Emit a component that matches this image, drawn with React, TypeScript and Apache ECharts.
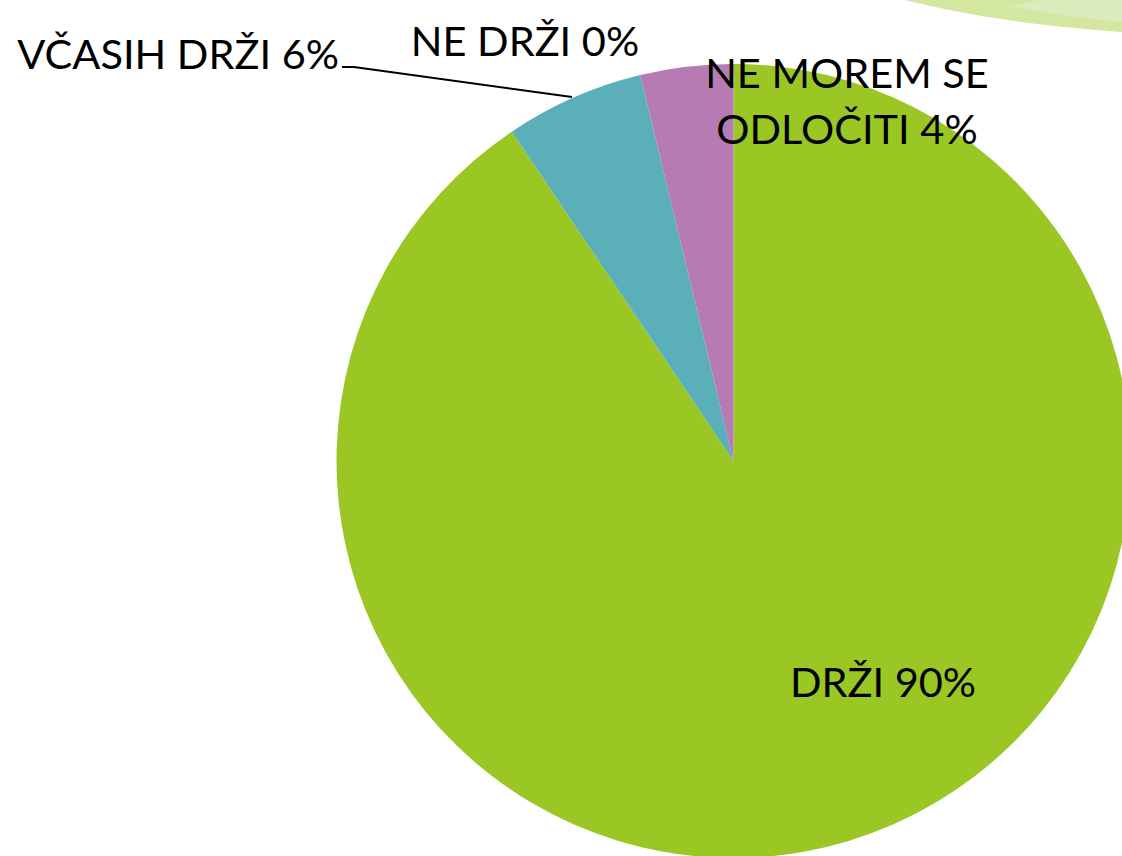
import React, { useEffect, useRef } from "react";
import * as echarts from "echarts";

const categories = ["DRŽI", "NE DRŽI", "VČASIH DRŽI", "NE MOREM SE ODLOČITI"];
// slice sizes (answer counts)
const values = [48, 0, 3, 2];
// percentages as printed on the labels
const percentLabels = [90, 0, 6, 4];
const colors = ["#9AC724", "#C0504D", "#5AAFB9", "#B67BB2"];

// label anchor positions (x, y, align) per slice, in pixels
const labelPos: Array<[number, number, string]> = [
  [883, 681, "center"],
  [525, 40, "center"],
  [339, 53, "right"],
  [847, 100, "center"],
];

export default function App() {
  const ref = useRef<HTMLDivElement>(null);
  useEffect(() => {
    if (!ref.current) return;
    echarts.graphic.registerShape(
      "swoosh",
      echarts.graphic.extendPath("M905 0 Q1000 24 1122 32 L1122 0 Z", {})
    );
    echarts.graphic.registerShape(
      "swoosh2",
      echarts.graphic.extendPath(
        "M1010 6 Q1070 18 1122 22 L1122 0 L1040 0 Z",
        {}
      )
    );
    const chart = echarts.init(ref.current, undefined, { renderer: "svg" });
    chart.setOption({
      animation: false,
      backgroundColor: "#ffffff",
      graphic: [
        { type: "swoosh", x: 0, y: 0, style: { fill: "#D3E7A0" }, z: 0 },
        { type: "swoosh2", x: 0, y: 0, style: { fill: "#DCEBBC" }, z: 0 },
      ],
      series: [
        {
          type: "pie",
          center: [733.5, 461],
          radius: [0, 397],
          startAngle: 90,
          clockwise: true,
          avoidLabelOverlap: false,
          itemStyle: { borderWidth: 0 },
          label: {
            show: true,
            fontFamily: "Lato",
            fontSize: 41.5,
            color: "#000",
            lineHeight: 56,
            formatter: (p: any) =>
              `${p.name.replace("SE ", "SE\n")} ${percentLabels[p.dataIndex]}%`,
          },
          labelLine: { show: false },
          labelLayout: (p: any) => {
            const [x, y, align] = labelPos[p.dataIndex];
            const res: any = { x, y, align, verticalAlign: "middle" };
            if (p.dataIndex === 2) {
              res.labelLinePoints = [
                [572, 97],
                [354, 67],
                [342, 67],
              ];
            }
            return res;
          },
          data: categories.map((name, i) => ({
            name,
            value: values[i],
            itemStyle: { color: colors[i] },
            labelLine:
              i === 2
                ? { show: true, lineStyle: { color: "#000", width: 2 } }
                : { show: false },
          })),
        },
      ],
    });
    return () => chart.dispose();
  }, []);
  return (
    <div
      ref={ref}
      style={{ position: "fixed", left: 0, top: 0, width: 1122, height: 856 }}
    />
  );
}
